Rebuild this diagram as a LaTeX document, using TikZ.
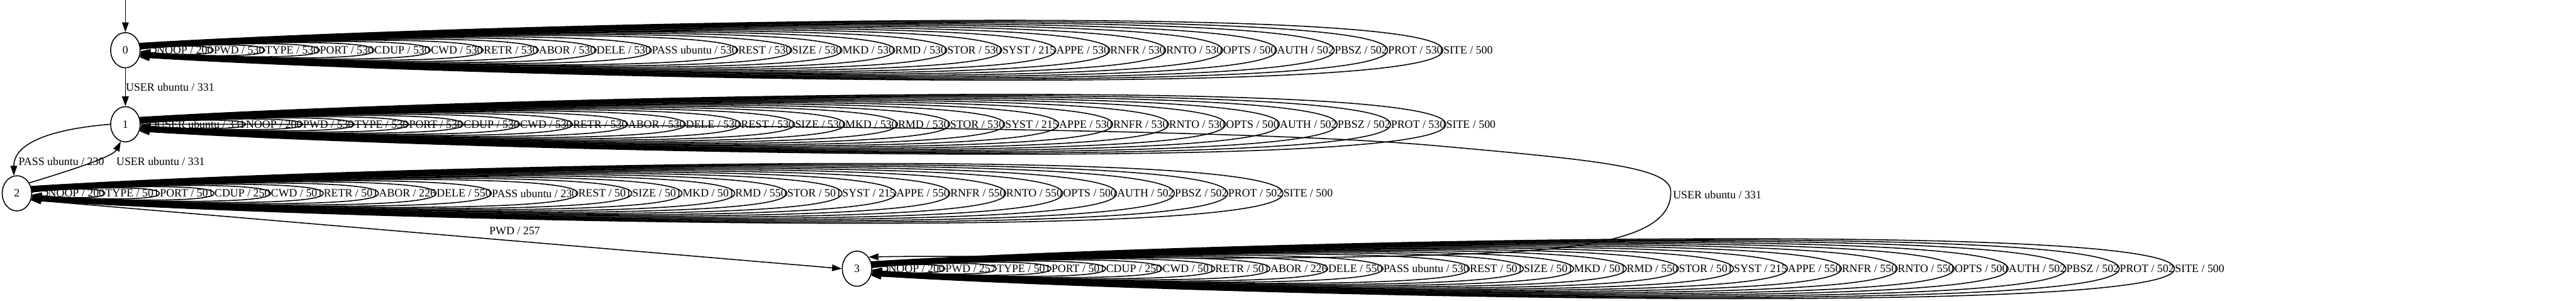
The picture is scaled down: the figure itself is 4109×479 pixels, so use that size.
\documentclass[tikz,border=0pt]{standalone}
\usepackage{fontspec}
\setmainfont{Liberation Serif}
\usetikzlibrary{arrows.meta, shapes.geometric, calc}

\begin{document}
\begin{tikzpicture}[>={Triangle[length=0.155cm, width=0.105cm]}, x=0.01cm, y=-0.01cm,
    state/.style={draw, ellipse, minimum width=0.47cm, minimum height=0.56cm, inner sep=0pt, line width=0.44pt, font=\fontsize{5.1pt}{6pt}\selectfont},
    lbl/.style={inner sep=0pt, font=\fontsize{5.1pt}{6pt}\selectfont},
    trans/.style={->, line width=0.44pt}]
    \useasboundingbox (0,0) rectangle (4109,479);

    % States
    \node[state] (n0) at (200, 80) {0};
    \node[state] (n1) at (200, 198) {1};
    \node[state] (n2) at (27, 308) {2};
    \node[state] (n3) at (1367, 428) {3};
    \coordinate (start) at (200, 0);

    % Transitions between states
    \draw[trans] (start) -- (n0);
    \draw[trans] (n0) -- (n1) node[lbl, midway, right] (t01) {USER ubuntu / 331};
    \draw[trans] (n1.west) .. controls (90, 205) and (22, 225) .. (n2.100);
    \node[lbl, anchor=west] (t12) at (29, 257) {PASS ubuntu / 230};
    \draw[trans] (n2.40) .. controls (110, 272) and (180, 250) .. (n1.255);
    \node[lbl, anchor=west] (t21) at (185, 257) {USER ubuntu / 331};
    \draw[trans] (n2.-25) -- (n3.west);
    \node[lbl] (t23) at (821, 368) {PWD / 257};
    \draw[trans] (n1.east) .. controls (1200, 198) and (2000, 205) .. (2300, 233)
        .. controls (2560, 256) and (2665, 268) .. (2665, 305)
        .. controls (2667, 365) and (2580, 392) .. (2400, 402)
        .. controls (2000, 420) and (1600, 405) .. (n3.45);
    \node[lbl, anchor=west] (t13) at (2668, 310) {USER ubuntu / 331};

    % Self-loops of state 0
    \coordinate (e0-0) at ($(n0.east)+(25,0)$);
    \foreach \lbl [count=\k, remember=\k as \j (initially 0)] in {NOOP / 200, PWD / 530, TYPE / 530, PORT / 530, CDUP / 530, CWD / 530, RETR / 530, ABOR / 530, DELE / 530, PASS ubuntu / 530, REST / 530, SIZE / 530, MKD / 530, RMD / 530, STOR / 530, SYST / 215, APPE / 530, RNFR / 530, RNTO / 530, OPTS / 500, AUTH / 502, PBSZ / 502, PROT / 530, SITE / 500}{
        \pgfmathsetmacro{\h}{6+55*(\k-1)/23}
        \pgfmathtruncatemacro{\ang}{4+22*(\k-1)/23}
        \node[lbl, anchor=west] (l0-\k) at (e0-\j) {\lbl};
        \coordinate (e0-\k) at (l0-\k.east);
        \draw[trans] (n0.\ang) .. controls ($(n0.east)!0.25!(e0-\j)+(0,-0.7*\h)$) and ($(e0-\j)+(0,-1.3*\h)$) .. (e0-\j)
            .. controls ($(e0-\j)+(0,1.3*\h)$) and ($(n0.east)!0.25!(e0-\j)+(0,0.7*\h)$) .. (n0.-\ang);
    }

    % Self-loops of state 1
    \coordinate (e1-0) at ($(n1.east)+(25,0)$);
    \foreach \lbl [count=\k, remember=\k as \j (initially 0)] in {USER ubuntu / 331, NOOP / 200, PWD / 530, TYPE / 530, PORT / 530, CDUP / 530, CWD / 530, RETR / 530, ABOR / 530, DELE / 530, REST / 530, SIZE / 530, MKD / 530, RMD / 530, STOR / 530, SYST / 215, APPE / 530, RNFR / 530, RNTO / 530, OPTS / 500, AUTH / 502, PBSZ / 502, PROT / 530, SITE / 500}{
        \pgfmathsetmacro{\h}{6+55*(\k-1)/23}
        \pgfmathtruncatemacro{\ang}{4+22*(\k-1)/23}
        \node[lbl, anchor=west] (l1-\k) at (e1-\j) {\lbl};
        \coordinate (e1-\k) at (l1-\k.east);
        \draw[trans] (n1.\ang) .. controls ($(n1.east)!0.25!(e1-\j)+(0,-0.7*\h)$) and ($(e1-\j)+(0,-1.3*\h)$) .. (e1-\j)
            .. controls ($(e1-\j)+(0,1.3*\h)$) and ($(n1.east)!0.25!(e1-\j)+(0,0.7*\h)$) .. (n1.-\ang);
    }

    % Self-loops of state 2
    \coordinate (e2-0) at ($(n2.east)+(25,0)$);
    \foreach \lbl [count=\k, remember=\k as \j (initially 0)] in {NOOP / 200, TYPE / 501, PORT / 501, CDUP / 250, CWD / 501, RETR / 501, ABOR / 226, DELE / 550, PASS ubuntu / 230, REST / 501, SIZE / 501, MKD / 501, RMD / 550, STOR / 501, SYST / 215, APPE / 550, RNFR / 550, RNTO / 550, OPTS / 500, AUTH / 502, PBSZ / 502, PROT / 502, SITE / 500}{
        \pgfmathsetmacro{\h}{6+55*(\k-1)/22}
        \pgfmathtruncatemacro{\ang}{4+22*(\k-1)/22}
        \node[lbl, anchor=west] (l2-\k) at (e2-\j) {\lbl};
        \coordinate (e2-\k) at (l2-\k.east);
        \draw[trans] (n2.\ang) .. controls ($(n2.east)!0.25!(e2-\j)+(0,-0.7*\h)$) and ($(e2-\j)+(0,-1.3*\h)$) .. (e2-\j)
            .. controls ($(e2-\j)+(0,1.3*\h)$) and ($(n2.east)!0.25!(e2-\j)+(0,0.7*\h)$) .. (n2.-\ang);
    }

    % Self-loops of state 3
    \coordinate (e3-0) at ($(n3.east)+(25,0)$);
    \foreach \lbl [count=\k, remember=\k as \j (initially 0)] in {NOOP / 200, PWD / 257, TYPE / 501, PORT / 501, CDUP / 250, CWD / 501, RETR / 501, ABOR / 226, DELE / 550, PASS ubuntu / 530, REST / 501, SIZE / 501, MKD / 501, RMD / 550, STOR / 501, SYST / 215, APPE / 550, RNFR / 550, RNTO / 550, OPTS / 500, AUTH / 502, PBSZ / 502, PROT / 502, SITE / 500}{
        \pgfmathsetmacro{\h}{6+55*(\k-1)/23}
        \pgfmathtruncatemacro{\ang}{4+22*(\k-1)/23}
        \node[lbl, anchor=west] (l3-\k) at (e3-\j) {\lbl};
        \coordinate (e3-\k) at (l3-\k.east);
        \draw[trans] (n3.\ang) .. controls ($(n3.east)!0.25!(e3-\j)+(0,-0.7*\h)$) and ($(e3-\j)+(0,-1.3*\h)$) .. (e3-\j)
            .. controls ($(e3-\j)+(0,1.3*\h)$) and ($(n3.east)!0.25!(e3-\j)+(0,0.7*\h)$) .. (n3.-\ang);
    }
\end{tikzpicture}
\end{document}
